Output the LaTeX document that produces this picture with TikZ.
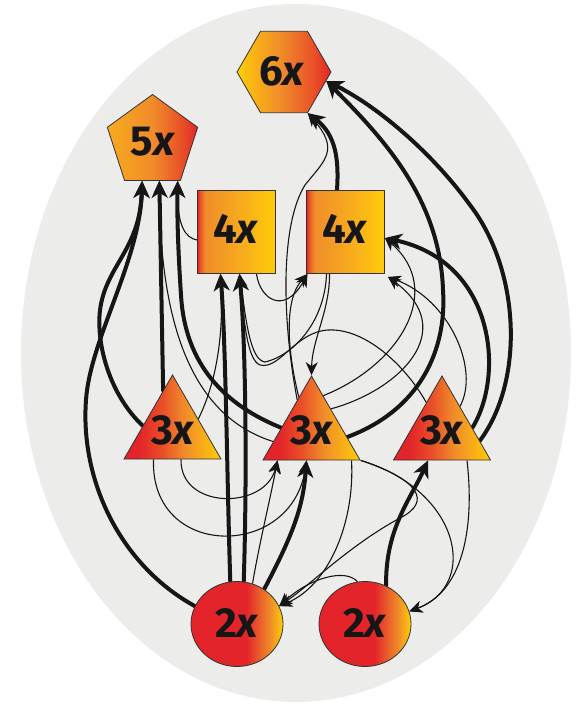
\documentclass[tikz,border=0pt]{standalone}
\usepackage{fontspec}
\newfontfamily\labfont{Fira Sans}
\usetikzlibrary{shapes.geometric,arrows.meta}
\definecolor{cR}{RGB}{227,36,42}
\definecolor{cRO}{RGB}{233,80,40}
\definecolor{cO}{RGB}{240,140,42}
\definecolor{cOY}{RGB}{247,170,30}
\definecolor{cY}{RGB}{255,204,8}
\definecolor{bgc}{RGB}{236,236,235}
\definecolor{ink}{RGB}{22,22,22}
\pgfdeclarehorizontalshading{hexsh}{100bp}{color(0bp)=(cY); color(25bp)=(cY); color(48bp)=(cO); color(66bp)=(cRO); color(75bp)=(cR); color(100bp)=(cR)}
\pgfdeclarehorizontalshading{pentsh}{100bp}{color(0bp)=(cY); color(25bp)=(cOY); color(50bp)=(cO); color(66bp)=(cRO); color(75bp)=(cR); color(100bp)=(cR)}
\pgfdeclarehorizontalshading{sqsh}{100bp}{color(0bp)=(cR); color(25bp)=(cR); color(26.5bp)=(cRO); color(30bp)=(cO); color(52bp)=(cOY); color(75bp)=(cY); color(100bp)=(cY)}
\pgfdeclarehorizontalshading{trish}{100bp}{color(0bp)=(cR); color(25bp)=(cR); color(33bp)=(cR); color(45bp)=(cRO); color(56bp)=(cO); color(75bp)=(cY); color(100bp)=(cY)}
\pgfdeclarehorizontalshading{circsh}{100bp}{color(0bp)=(cR); color(25bp)=(cR); color(55bp)=(cR); color(68bp)=(cO); color(75bp)=(cY); color(100bp)=(cY)}
\pgfdeclarelayer{back}
\pgfdeclarelayer{edges}
\pgfsetlayers{back,edges,main}
\tikzset{
  shp/.style={draw=black!80, line width=0.8pt, inner sep=0pt, shade},
  lab/.style={font=\labfont\fontsize{42}{42}\selectfont\bfseries, text=ink, inner sep=0pt},
  heavy/.style={draw=ink, line width=4pt, line cap=round, -{Stealth[length=17pt,width=16pt,inset=5pt]}},
  light/.style={draw=ink, line width=1.1pt, -{Stealth[length=13pt,width=12pt,inset=4pt]}},
}
\begin{document}
\begin{tikzpicture}[x=1pt,y=1pt]
\begin{pgfonlayer}{back}
\fill[white] (0,0) rectangle (577,-706);
\fill[bgc] (296,-353) ellipse [x radius=275, y radius=349];
\end{pgfonlayer}
\useasboundingbox (0,0) rectangle (577,-706);
% nodes
\node[shp, regular polygon, regular polygon sides=6, minimum size=94pt, shading=hexsh] (n6) at (284,-72) {};
\node[shp, regular polygon, regular polygon sides=5, minimum size=95pt, shading=pentsh] (n5) at (152.5,-142) {};
\node[shp, rectangle, minimum width=78pt, minimum height=83pt, shading=sqsh] (q1) at (236.5,-232) {};
\node[shp, rectangle, minimum width=78pt, minimum height=83pt, shading=sqsh] (q2) at (345.5,-232) {};
\node[shp, regular polygon, regular polygon sides=3, minimum size=112pt, shading=trish] (tL) at (172.5,-431) {};
\node[shp, regular polygon, regular polygon sides=3, minimum size=112pt, shading=trish] (tM) at (311.5,-432) {};
\node[shp, regular polygon, regular polygon sides=3, minimum size=112pt, shading=trish] (tR) at (442,-432) {};
\node[shp, ellipse, minimum width=92pt, minimum height=85pt, shading=circsh] (cL) at (237,-624) {};
\node[shp, ellipse, minimum width=92pt, minimum height=85pt, shading=circsh] (cR) at (365,-624) {};
% labels
\node[lab] (l6) at (282,-71) {6\textit{x}};
\node[lab] (l5) at (153,-142) {5\textit{x}};
\node[lab] (l4a) at (236,-229) {4\textit{x}};
\node[lab] (l4b) at (345,-229) {4\textit{x}};
\node[lab] (l3a) at (173,-430) {3\textit{x}};
\node[lab] (l3b) at (312,-430) {3\textit{x}};
\node[lab] (l3c) at (442,-430) {3\textit{x}};
\node[lab] (l2a) at (237,-623) {2\textit{x}};
\node[lab] (l2b) at (365,-623) {2\textit{x}};
\begin{pgfonlayer}{edges}
% thin edges
\draw[light] ([yshift=-8pt]q1.west) .. controls (185,-238) and (177,-225) .. (n5.-57);
\draw[light] (tM.194) .. controls (205,-420) and (160,-350) .. (n5.-80);
\draw[light] (tL.25) .. controls (215,-385) and (224,-340) .. ([xshift=-16pt]q1.south);
\draw[light] ([xshift=-19pt]tL.south) .. controls (150,-560) and (292,-560) .. ([xshift=-5pt]tM.south);
\draw[light] ([xshift=8.5pt]tL.south) .. controls (180,-510) and (265,-510) .. ([xshift=-34pt]tM.south);
\draw[light] (cL.69) .. controls (260,-540) and (270,-500) .. ([xshift=-34pt]tM.south);
\draw[light] (tM.-30) .. controls (460,-490) and (480,-585) .. (cR.16);
\draw[light] ([xshift=25pt]tR.south) .. controls (475,-530) and (462,-592) .. (cR.16);
\draw[light] (cR.100) .. controls (345,-568) and (310,-578) .. (cL.23);
\draw[light] ([xshift=40pt]tM.south) .. controls (355,-520) and (330,-585) .. (cL.23);
\draw[light] (tM.-30) .. controls (420,-480) and (432,-502) .. (400,-518) .. controls (350,-545) and (310,-585) .. (cL.23);
\draw[light] (tM.114) .. controls (282,-320) and (280,-225) .. (305,-185) .. controls (325,-160) and (340,-150) .. (n6.-60);
\draw[light] (tM.110) .. controls (287,-350) and (284,-300) .. ([xshift=-38pt]q2.south);
\draw[light] ([xshift=20pt]q1.south) .. controls (260,-300) and (285,-315) .. ([xshift=-38pt]q2.south);
\draw[light] ([xshift=-16pt]q2.south) .. controls (330,-310) and (312,-340) .. (tM.north);
\draw[light] ([xshift=-19pt]q2.south) .. controls (325,-320) and (295,-355) .. (265,-362) .. controls (250,-360) and (246,-320) .. ([xshift=3pt]q1.south);
\draw[light] (tR.118) .. controls (405,-365) and (365,-328) .. (328,-330) .. controls (295,-332) and (280,-370) .. (260,-365) .. controls (247,-360) and (244,-320) .. ([xshift=3pt]q1.south);
\draw[light] (tM.72) .. controls (400,-365) and (445,-290) .. ([yshift=-6pt]q2.east);
\draw[light] (tM.50) .. controls (400,-390) and (460,-330) .. ([shift={(3pt,-3pt)}]q2.south east);
\draw[light] (tR.55) .. controls (480,-370) and (450,-300) .. ([shift={(3pt,-3pt)}]q2.south east);
% thick edges
\draw[heavy] (cL.157) .. controls (120,-565) and (80,-480) .. (86,-400) .. controls (90,-340) and (140,-260) .. (n5.-105);
\draw[heavy] (tL.170) .. controls (110,-395) and (96,-345) .. (100,-310) .. controls (106,-265) and (140,-250) .. (n5.-105);
\draw[heavy] (tL.103) -- (n5.-80);
\draw[heavy] (tM.172) .. controls (225,-405) and (185,-365) .. (181,-295) .. controls (178,-250) and (177,-215) .. (n5.-57);
\draw[heavy] (cL.99) .. controls (227,-480) and (226,-350) .. ([xshift=-16pt]q1.south);
\draw[heavy] (cL.81) .. controls (247,-480) and (246,-350) .. ([xshift=3pt]q1.south);
\draw[heavy] (cL.52) .. controls (290,-540) and (303,-510) .. ([xshift=-5pt]tM.south);
\draw[heavy] (cR.61) .. controls (385,-530) and (410,-500) .. ([xshift=-14pt]tR.south);
\draw[heavy] (tM.-8) .. controls (420,-410) and (447,-350) .. (443,-290) .. controls (440,-200) and (385,-140) .. (n6.-12);
\draw[heavy] (tR.-13) .. controls (525,-380) and (520,-270) .. (470,-205) .. controls (430,-150) and (375,-105) .. (n6.-12);
\draw[heavy] (tR.8) .. controls (505,-375) and (495,-262) .. ([yshift=-6pt]q2.east);
\draw[heavy] ([xshift=-8.5pt]q2.north) .. controls (339,-160) and (336,-135) .. (n6.-60);
\end{pgfonlayer}
\end{tikzpicture}
\end{document}
